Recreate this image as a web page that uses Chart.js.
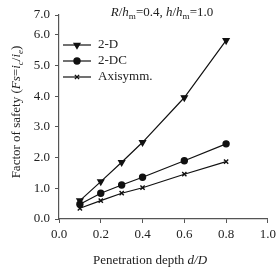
<!DOCTYPE html>
<html>
<head>
<meta charset="utf-8">
<script src="https://cdn.jsdelivr.net/npm/chart.js@4"></script>
<style>
  html, body { margin: 0; padding: 0; background: #fff; }
  #wrap { width: 280px; height: 269px; }
</style>
</head>
<body>
<div id="wrap"><canvas id="chart" width="280" height="269"></canvas></div>
<script>
const depth = [0.1, 0.2, 0.3, 0.4, 0.6, 0.8];
const fs2D = [0.60, 1.22, 1.85, 2.50, 3.96, 5.82];
const fs2DC = [0.48, 0.84, 1.11, 1.36, 1.90, 2.45];
const fsAxi = [0.35, 0.60, 0.84, 1.02, 1.46, 1.87];
const seriesNames = ['2-D', '2-DC', 'Axisymm.'];
const xTicks = [0, 0.2, 0.4, 0.6, 0.8, 1.0];
const yTicks = [0, 1, 2, 3, 4, 5, 6];
const yTopLabel = '7.0'; // the original's top tick sits closer than the rest

const FONT = '"Liberation Serif", "Times New Roman", serif';
const INK = '#222';
const AXIS = '#555';
const yTop = 6.65;

function drawRich(ctx, parts, x, y, size) {
    // parts: {t, it, sub}
    let w = 0;
    parts.forEach(p => {
        ctx.font = (p.it ? 'italic ' : '') + (p.sub ? size * 0.7 : size) + 'px ' + FONT;
        p.w = ctx.measureText(p.t).width;
        w += p.w;
    });
    let cx = x - w / 2;
    parts.forEach(p => {
        ctx.font = (p.it ? 'italic ' : '') + (p.sub ? size * 0.7 : size) + 'px ' + FONT;
        ctx.fillText(p.t, cx, p.sub ? y + size * 0.3 : y);
        cx += p.w;
    });
}

const extras = {
    id: 'extras',
    afterDraw(chart) {
        const ctx = chart.ctx;
        ctx.save();
        ctx.fillStyle = INK;
        ctx.textAlign = 'left';
        ctx.textBaseline = 'middle';

        // annotation
        drawRich(ctx, [
            {t: 'R', it: true}, {t: '/'}, {t: 'h', it: true}, {t: 'm', sub: true},
            {t: '=0.4, '}, {t: 'h', it: true}, {t: '/'}, {t: 'h', it: true}, {t: 'm', sub: true},
            {t: '=1.0'}
        ], 162, 13, 13);

        // x title
        drawRich(ctx, [{t: 'Penetration depth '}, {t: 'd/D', it: true}], 150, 261, 13);

        // y title
        ctx.save();
        ctx.translate(17, 112);
        ctx.rotate(-Math.PI / 2);
        drawRich(ctx, [
            {t: 'Factor of safety ('}, {t: 'Fs', it: true}, {t: '='},
            {t: 'i', it: true}, {t: 'c', it: true, sub: true}, {t: '/'},
            {t: 'i', it: true}, {t: 'e', it: true, sub: true}, {t: ')'}
        ], 0, 0, 13);
        ctx.restore();

        // legend
        chart.data.datasets.forEach((ds, i) => {
            const y = 45 + 16 * i;
            ctx.strokeStyle = ds.borderColor;
            ctx.lineWidth = ds.borderWidth;
            ctx.beginPath();
            ctx.moveTo(63, y);
            ctx.lineTo(91, y);
            ctx.stroke();
            ctx.fillStyle = ds.pointBackgroundColor;
            ctx.strokeStyle = ds.pointBorderColor;
            ctx.lineWidth = ds.pointBorderWidth;
            Chart.helpers.drawPoint(ctx, {
                pointStyle: ds.pointStyle, radius: ds.pointRadius,
                rotation: ds.pointRotation, borderWidth: ds.pointBorderWidth
            }, 77, y);
            ctx.fillStyle = INK;
            ctx.font = '13px ' + FONT;
            ctx.textAlign = 'left';
            ctx.fillText(ds.label, 98, y);
        });
        ctx.restore();
    }
};

function series(label, values, style, radius, rotation) {
    return {
        label: label,
        data: depth.map((d, i) => ({x: d, y: values[i]})),
        borderColor: '#111',
        borderWidth: 1.2,
        pointStyle: style,
        pointRadius: radius,
        pointRotation: rotation,
        pointBackgroundColor: '#111',
        pointBorderColor: '#111',
        pointBorderWidth: 1.4,
        tension: 0
    };
}

new Chart(document.getElementById('chart').getContext('2d'), {
    type: 'line',
    data: {
        datasets: [
            series(seriesNames[0], fs2D, 'triangle', 3.3, 180),
            series(seriesNames[1], fs2DC, 'circle', 3, 0),
            series(seriesNames[2], fsAxi, 'crossRot', 3, 0)
        ]
    },
    options: {
        responsive: false,
        animation: false,
        layout: { padding: { top: 15, right: 10, left: 0, bottom: 0 } },
        plugins: { legend: { display: false }, tooltip: { enabled: false } },
        scales: {
            x: {
                type: 'linear',
                min: 0, max: 1,
                afterBuildTicks: s => { s.ticks = xTicks.map(v => ({value: v})); },
                afterFit: s => { s.height = 50; },
                border: { color: AXIS, width: 1.2 },
                grid: { drawOnChartArea: false, tickLength: 4, color: AXIS },
                ticks: {
                    padding: 4, color: INK, font: { family: FONT, size: 13 },
                    callback: v => v.toFixed(1)
                }
            },
            y: {
                min: 0, max: yTop,
                afterBuildTicks: s => {
                    s.ticks = yTicks.map(v => ({value: v})).concat([{value: yTop}]);
                },
                afterFit: s => { s.width = 59; },
                border: { color: AXIS, width: 1.2 },
                grid: { drawOnChartArea: false, tickLength: 4, color: AXIS },
                ticks: {
                    padding: 5, color: INK, font: { family: FONT, size: 13 },
                    callback: v => v === yTop ? yTopLabel : v.toFixed(1)
                }
            }
        }
    },
    plugins: [extras]
});
</script>
</body>
</html>
